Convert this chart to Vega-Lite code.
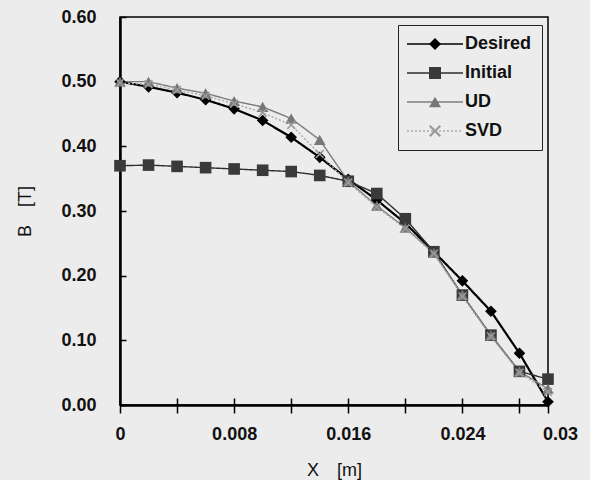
{
  "$schema": "https://vega.github.io/schema/vega-lite/v6.json",
  "width": 428,
  "height": 388,
  "autosize": {"type": "none"},
  "padding": {"left": 120, "top": 17, "right": 42, "bottom": 75},
  "background": "#ececec",
  "config": {
    "view": {"stroke": "#000000", "strokeWidth": 1.5},
    "font": "Liberation Sans"
  },
  "data": {
    "values": [
      {"x": 0.000, "Desired": 0.500, "Initial": 0.370, "UD": 0.500, "SVD": 0.498},
      {"x": 0.002, "Desired": 0.492, "Initial": 0.371, "UD": 0.500, "SVD": 0.496},
      {"x": 0.004, "Desired": 0.483, "Initial": 0.369, "UD": 0.490, "SVD": 0.487},
      {"x": 0.006, "Desired": 0.472, "Initial": 0.367, "UD": 0.482, "SVD": 0.478},
      {"x": 0.008, "Desired": 0.458, "Initial": 0.365, "UD": 0.470, "SVD": 0.466},
      {"x": 0.010, "Desired": 0.440, "Initial": 0.363, "UD": 0.461, "SVD": 0.452},
      {"x": 0.012, "Desired": 0.414, "Initial": 0.361, "UD": 0.443, "SVD": 0.433},
      {"x": 0.014, "Desired": 0.383, "Initial": 0.355, "UD": 0.410, "SVD": 0.388},
      {"x": 0.016, "Desired": 0.349, "Initial": 0.346, "UD": 0.346, "SVD": 0.344},
      {"x": 0.018, "Desired": 0.317, "Initial": 0.327, "UD": 0.308, "SVD": 0.306},
      {"x": 0.020, "Desired": 0.281, "Initial": 0.288, "UD": 0.274, "SVD": 0.273},
      {"x": 0.022, "Desired": 0.237, "Initial": 0.237, "UD": 0.235, "SVD": 0.234},
      {"x": 0.024, "Desired": 0.192, "Initial": 0.170, "UD": 0.170, "SVD": 0.168},
      {"x": 0.026, "Desired": 0.145, "Initial": 0.108, "UD": 0.108, "SVD": 0.106},
      {"x": 0.028, "Desired": 0.080, "Initial": 0.052, "UD": 0.052, "SVD": 0.050},
      {"x": 0.030, "Desired": 0.005, "Initial": 0.040, "UD": 0.025, "SVD": 0.020}
    ]
  },
  "transform": [{"fold": ["Desired", "Initial", "UD", "SVD"], "as": ["series", "B"]}],
  "layer": [
    {
      "mark": {"type": "line"},
      "encoding": {
        "x": {
          "field": "x", "type": "quantitative",
          "scale": {"domain": [0, 0.03], "nice": false},
          "axis": {
            "orient": "bottom",
            "values": [0, 0.004, 0.008, 0.012, 0.016, 0.02, 0.024, 0.028, 0.03],
            "labelExpr": "indexof([0, 0.008, 0.016, 0.024, 0.03], datum.value) >= 0 ? format(datum.value, '~g') : ''",
            "labelOffset": {"condition": {"test": "datum.value === 0.03", "value": 12}, "value": 0},
            "tickSize": 8, "tickColor": "#000000", "tickWidth": 1.5,
            "domainColor": "#000000", "domainWidth": 2.5,
            "labelFontSize": 18, "labelFontWeight": "bold", "labelColor": "#111111",
            "labelPadding": 12, "labelFlush": false, "labelOverlap": false,
            "grid": false,
            "title": "X　[m]", "titleFontSize": 18, "titleFontWeight": "normal", "titleColor": "#111111",
            "titlePadding": 18
          }
        },
        "y": {
          "field": "B", "type": "quantitative",
          "scale": {"domain": [0, 0.6], "nice": false},
          "axis": {
            "values": [0, 0.1, 0.2, 0.3, 0.4, 0.5, 0.6],
            "format": ".2f",
            "tickSize": -6, "tickColor": "#000000", "tickWidth": 1.5,
            "labelPadding": 30,
            "domainColor": "#000000", "domainWidth": 2.5,
            "labelFontSize": 18, "labelFontWeight": "bold", "labelColor": "#111111",
            "grid": false,
            "title": "B　[T]", "titleFontSize": 18, "titleFontWeight": "normal", "titleColor": "#111111",
            "titlePadding": 26
          }
        },
        "stroke": {
          "field": "series", "type": "nominal",
          "scale": {"domain": ["Desired", "Initial", "UD", "SVD"], "range": ["#000000", "#2e2e2e", "#7d7d7d", "#a8a8a8"]},
          "legend": {
            "orient": "none", "legendX": 278, "legendY": 8, "title": null,
            "padding": 10, "strokeColor": "#222222",
            "symbolType": "M-4.67,0L4.67,0", "symbolSize": 144, "symbolOffset": 18, "symbolStrokeWidth": 1.6,
            "labelFontSize": 18, "labelFontWeight": "bold", "labelOffset": 21, "labelOpacity": 0,
            "rowPadding": 11
          }
        },
        "strokeDash": {
          "field": "series", "type": "nominal",
          "scale": {"domain": ["Desired", "Initial", "UD", "SVD"], "range": [[1, 0], [1, 0], [1, 0], [2, 2]]},
          "legend": {
            "orient": "none", "legendX": 278, "legendY": 8, "title": null,
            "padding": 10, "strokeColor": "#222222",
            "symbolType": "M-4.67,0L4.67,0", "symbolSize": 144, "symbolOffset": 18, "symbolStrokeWidth": 1.6,
            "labelFontSize": 18, "labelFontWeight": "bold", "labelOffset": 21, "labelOpacity": 0,
            "rowPadding": 11
          }
        },
        "strokeWidth": {"condition": {"test": "datum.series === 'Desired'", "value": 2.2}, "value": 1.4}
      }
    },
    {
      "mark": {"type": "point", "filled": true, "opacity": 1},
      "encoding": {
        "x": {
          "field": "x", "type": "quantitative",
          "scale": {"domain": [0, 0.03], "nice": false},
          "axis": {
            "orient": "bottom",
            "values": [0.004, 0.008, 0.012, 0.016, 0.02, 0.024, 0.028],
            "tickSize": -7, "tickColor": "#000000", "tickWidth": 1.5,
            "labels": false, "domain": false, "grid": false, "title": null
          }
        },
        "y": {
          "field": "B", "type": "quantitative",
          "scale": {"domain": [0, 0.6], "nice": false},
          "axis": {
            "values": [0, 0.1, 0.2, 0.3, 0.4, 0.5, 0.6],
            "format": ".2f",
            "tickSize": -6, "tickColor": "#000000", "tickWidth": 1.5,
            "labelPadding": 30,
            "domainColor": "#000000", "domainWidth": 2.5,
            "labelFontSize": 18, "labelFontWeight": "bold", "labelColor": "#111111",
            "grid": false,
            "title": "B　[T]", "titleFontSize": 18, "titleFontWeight": "normal", "titleColor": "#111111",
            "titlePadding": 26
          }
        },
        "shape": {
          "field": "series", "type": "nominal",
          "sort": null,
          "scale": {"range": ["diamond", "square", "triangle-up", "M-1,-0.75L-0.75,-1L0,-0.25L0.75,-1L1,-0.75L0.25,0L1,0.75L0.75,1L0,0.25L-0.75,1L-1,0.75L-0.25,0Z"]},
          "legend": {
            "orient": "none", "legendX": 278, "legendY": 8, "title": null,
            "padding": 10,
            "symbolSize": 144, "symbolOffset": 18, "symbolStrokeWidth": 0,
            "labelFontSize": 18, "labelFontWeight": "bold", "labelColor": "#111111", "labelOffset": 21,
            "rowPadding": 11
          }
        },
        "fill": {
          "field": "series", "type": "nominal",
          "sort": null,
          "scale": {"range": ["#000000", "#3a3a3a", "#777777", "#999999"]},
          "legend": {
            "orient": "none", "legendX": 278, "legendY": 8, "title": null,
            "padding": 10,
            "symbolSize": 144, "symbolOffset": 18, "symbolStrokeWidth": 0,
            "labelFontSize": 18, "labelFontWeight": "bold", "labelColor": "#111111", "labelOffset": 21,
            "rowPadding": 11
          }
        },
        "size": {"condition": {"test": "datum.series === 'SVD'", "value": 80}, "value": 135}
      }
    }
  ],
  "resolve": {"axis": {"x": "independent"}}
}
